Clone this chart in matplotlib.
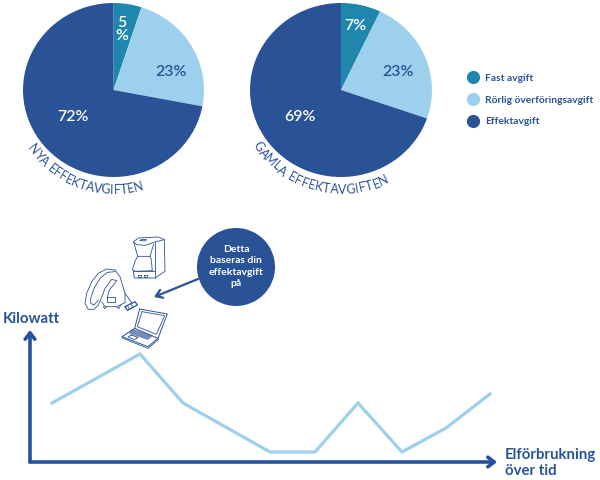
import matplotlib
matplotlib.use('Agg')
import matplotlib.pyplot as plt
import numpy as np
from matplotlib.lines import Line2D
from matplotlib.patches import Circle, Polygon
from matplotlib.textpath import TextPath
from matplotlib.font_manager import FontProperties

W, H = 600, 480
TEAL = '#1f87ae'
LIGHT = '#9dd0ec'
DARK = '#2a5297'

plt.rcParams['font.family'] = ['Lato', 'DejaVu Sans']

# Data
legend_labels = ['Fast avgift', 'Rörlig överföringsavgift', 'Effektavgift']
new_fee = [5, 23, 72]
old_fee = [7, 23, 69]
new_title = 'NYA EFFEKTAVGIFTEN'
old_title = 'GAMLA EFFEKTAVGIFTEN'
usage_time = [22, 110, 153, 240, 285, 328, 372, 416, 460]
usage_kw = [59, 108, 59, 10, 10, 59, 10, 34, 68]
x_label = 'Elförbrukning\növer tid'
y_label = 'Kilowatt'
bubble_text = 'Detta\nbaseras din\neffektavgift\npå'

fig = plt.figure(figsize=(W / 100, H / 100), dpi=100, facecolor='white')


def box(x0, y0, x1, y1):
    # pixel box (top-left origin) to figure fractions
    return [x0 / W, 1 - y1 / H, (x1 - x0) / W, (y1 - y0) / H]


# Overlay in pixel coordinates for annotations and icons
over = fig.add_axes([0, 0, 1, 1], zorder=5)
over.set_xlim(0, W)
over.set_ylim(H, 0)
over.axis('off')


def draw_pie(values, bounds):
    ax = fig.add_axes(box(*bounds))
    ax.pie(values, colors=[TEAL, LIGHT, DARK], startangle=90, counterclock=False, radius=1,
           wedgeprops={'linewidth': 0})
    ax.set_aspect('auto')
    ax.set_xlim(-1, 1)
    ax.set_ylim(-1, 1)


def advance(c, fp):
    # glyph advance, measured between two fixed letters
    base = TextPath((0, 0), 'HH', prop=fp).get_extents().width
    return TextPath((0, 0), 'H' + c + 'H', prop=fp).get_extents().width - base


def curved_text(text, cx, cy, r, start_deg, end_deg, size):
    # letters along the bottom of a circle, angles measured from straight down
    fp = FontProperties(family='Lato', size=size)
    widths = [advance(c, fp) + size * 0.12 for c in text]
    total = sum(widths)
    pos = 0
    for c, w in zip(text, widths):
        a = start_deg + (end_deg - start_deg) * (pos + w / 2) / total
        rad = np.radians(a)
        # r is the baseline radius, letters stand toward the pie
        over.text(cx - r * np.sin(rad), cy + r * np.cos(rad), c, rotation=-a, rotation_mode='anchor',
                  ha='center', va='baseline', fontsize=size, color=DARK)
        pos += w


draw_pie(new_fee, (23, 3, 204, 177))
draw_pie(old_fee, (250, 3, 432, 177))

# Slice labels
pct = dict(fontsize=11.5, fontweight='semibold', ha='center', va='center')
over.text(122, 29.5, f'{new_fee[0]}\n%', color='white', linespacing=0.85, **pct)
over.text(171, 72, f'{new_fee[1]}%', color=DARK, **pct)
over.text(73, 117, f'{new_fee[2]}%', color='white', **pct)
over.text(355, 26, f'{old_fee[0]}%', color='white', **pct)
over.text(398, 72, f'{old_fee[1]}%', color=DARK, **pct)
over.text(300, 117, f'{old_fee[2]}%', color='white', **pct)

curved_text(new_title, 113.5, 90, 104, 56, -17, 9)
curved_text(old_title, 341, 90, 104, 58, -28, 9)

# Legend
handles = [Line2D([], [], marker='o', linestyle='none', markersize=9.5, color=c, markeredgewidth=0)
           for c in [TEAL, LIGHT, DARK]]
fig.legend(handles, legend_labels, loc='upper left', bbox_to_anchor=(463 / W, 1 - 73.5 / H), frameon=False,
           prop={'size': 7.35, 'weight': 'bold'}, labelcolor=DARK, labelspacing=1.25, handletextpad=0.15,
           borderaxespad=0, borderpad=0)

# Line chart
ax = fig.add_axes(box(30, 330, 497, 462))
ax.plot(usage_time, usage_kw, color=LIGHT, lw=2.3, solid_joinstyle='miter')
ax.set_xlim(0, 467)
ax.set_ylim(0, 132)
ax.axis('off')
arrow = dict(arrowstyle='->,head_length=0.45,head_width=0.35', color='#27509b', lw=2.6, shrinkA=0, shrinkB=0)
ax.annotate('', xy=(1, 0), xytext=(0, 0), xycoords='axes fraction', arrowprops=arrow)
ax.annotate('', xy=(0, 1), xytext=(0, 0), xycoords='axes fraction', arrowprops=arrow)

over.text(3, 319, y_label, fontsize=10.8, fontweight='bold', color=DARK, ha='left', va='center')
over.text(505, 463, x_label, fontsize=10.8, fontweight='bold', color=DARK, ha='left', va='center', linespacing=1.2)

# Bubble with arrow
over.add_patch(Circle((236, 267), 39, color=DARK, lw=0))
over.text(236, 266.5, bubble_text, color='white', fontsize=7.5, fontweight='bold', ha='center', va='center',
          linespacing=1.35)
over.annotate('', xy=(154, 297), xytext=(198, 279),
              arrowprops=dict(arrowstyle='->,head_length=0.45,head_width=0.3', color=DARK, lw=1.6, shrinkA=0, shrinkB=0))


def sketch(x0, y0, points, lw=0.6):
    # icon outline, points given on a 3x grid starting at pixel (x0, y0)
    p = np.array(points, dtype=float)
    over.plot(x0 + p[:, 0] / 3, y0 + p[:, 1] / 3, color=DARK, lw=lw, solid_capstyle='round')


# Coffee maker
c = (125, 228)
sketch(*c, [(25, 42), (40, 30), (100, 27), (118, 35), (120, 130), (90, 150), (28, 150), (25, 130)])
sketch(*c, [(25, 42), (35, 50), (60, 52), (90, 42), (118, 35)])
sketch(*c, [(90, 42), (90, 150)])
sketch(*c, [(27, 45), (38, 85), (75, 85), (86, 48)])
sketch(*c, [(38, 85), (30, 100), (22, 125), (30, 130), (82, 128), (78, 90), (75, 85)])
sketch(*c, [(25, 130), (90, 130)])
sketch(*c, [(45, 37), (52, 34), (65, 35), (60, 39), (45, 37)])
sketch(*c, [(38, 142), (47, 142), (47, 148), (38, 148), (38, 142)])
sketch(*c, [(58, 142), (67, 142), (67, 148), (58, 148), (58, 142)])

# Vacuum cleaner
v = (70, 210)
sketch(*v, [(135, 180), (110, 177), (85, 190), (65, 215), (50, 250), (45, 280), (55, 298), (72, 298), (85, 285),
            (95, 262), (105, 235), (118, 218)])
sketch(*v, [(135, 185), (112, 187), (90, 205), (72, 235), (62, 265), (62, 280), (72, 285), (85, 270)])
sketch(*v, [(135, 180), (150, 200), (165, 250), (165, 278), (140, 290), (105, 290), (95, 275)])
sketch(*v, [(118, 218), (125, 208), (140, 212), (130, 225), (118, 240), (112, 262)])
sketch(*v, [(112, 262), (135, 262), (135, 275), (112, 275), (112, 262)])
sketch(*v, [(100, 290), (104, 296), (110, 290)])
sketch(*v, [(140, 290), (146, 296), (152, 286)])
sketch(*v, [(165, 250), (185, 278)])
sketch(*v, [(165, 290), (195, 275), (202, 285), (172, 301), (165, 290)], lw=0.9)
sketch(*v, [(172, 286), (178, 297)])
sketch(*v, [(182, 281), (188, 292)])

# Laptop
b = (118, 305)
sketch(*b, [(65, 12), (148, 27), (120, 100), (50, 70), (65, 12)], lw=0.7)
sketch(*b, [(72, 20), (140, 32), (115, 88), (58, 65), (72, 20)])
sketch(*b, [(50, 70), (12, 95), (90, 125), (120, 100)], lw=0.7)
sketch(*b, [(12, 95), (15, 100), (90, 130), (122, 103)])
sketch(*b, [(40, 90), (60, 97), (50, 104), (30, 96), (40, 90)])
keys = np.array([(45, 72), (105, 92), (90, 105), (32, 85)], dtype=float)
over.add_patch(Polygon(np.c_[b[0] + keys[:, 0] / 3, b[1] + keys[:, 1] / 3], fc=DARK, alpha=0.65, lw=0))

fig.savefig('out.png', dpi=100)
